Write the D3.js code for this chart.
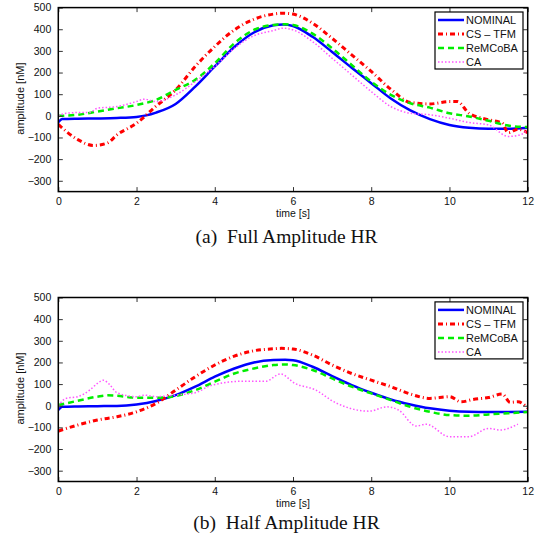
<!DOCTYPE html>
<html>
<head>
<meta charset="utf-8">
<script src="https://cdn.jsdelivr.net/npm/d3@7"></script>
<style>
  html, body { margin: 0; padding: 0; background: #fff; }
  svg { display: block; }
</style>
</head>
<body>
<svg id="chart" width="545" height="548"></svg>
<script>
// series values as [time s, amplitude nM]
const fullNominal = [[0,-30],[0.1,-15],[0.5,-13],[1,-12],[1.5,-10],[2,-5],[2.25,2],[2.5,15],[3,55],[3.5,135],[4,228],[4.5,318],[5,385],[5.5,418],[5.75,422],[6,415],[6.5,365],[7,295],[7.5,222],[8,151],[8.5,80],[9,25],[9.5,-15],[10,-42],[10.5,-55],[11,-60],[11.5,-60],[12,-55]];
const fullCsTfm = [[0,-40],[0.5,-110],[0.9,-137],[1.25,-126],[1.5,-88],[2,-34],[2.5,45],[3,120],[3.5,228],[4,320],[4.5,397],[5,446],[5.5,470],[5.75,474],[6,470],[6.5,428],[7,358],[7.5,282],[8,205],[8.5,123],[9,62],[9.5,55],[10,66],[10.2,66],[10.5,12],[11,-18],[11.35,-34],[11.5,-78],[11.75,-62],[12,-78]];
const fullReMCoBA = [[0,0],[0.5,5],[1,20],[1.5,35],[2,50],[2.5,74],[3,120],[3.5,166],[4,243],[4.5,335],[5,397],[5.5,420],[5.8,423],[6,420],[6.5,380],[7,312],[7.5,235],[8,158],[8.5,97],[9,58],[9.5,38],[10,12],[10.5,-3],[11,-23],[11.5,-45],[12,-52]];
const fullCA = [[0,0],[0.2,12],[0.5,15],[0.8,15],[1,35],[1.5,43],[2,66],[2.2,77],[2.5,66],[3,97],[3.5,158],[4,228],[4.5,312],[5,370],[5.5,394],[5.75,405],[6,397],[6.5,343],[7,266],[7.5,189],[8,112],[8.5,43],[9,12],[9.5,5],[10,-11],[10.5,-31],[11,-42],[11.5,-95],[11.8,-88],[12,-65]];

const halfNominal = [[0,-20],[0.1,-5],[0.5,-3],[1,-2],[1.5,-1],[2,6],[2.5,22],[3,49],[3.5,88],[4,134],[4.5,172],[5,200],[5.5,211],[5.8,212],[6,210],[6.5,180],[7,137],[7.5,95],[8,60],[8.5,29],[9,6],[9.5,-12],[10,-23],[10.5,-28],[11,-29],[12,-28]];
const halfCsTfm = [[0,-117],[0.5,-89],[1,-66],[1.5,-51],[2,-28],[2.5,11],[3,72],[3.5,134],[4,188],[4.5,229],[5,254],[5.5,263],[5.7,265],[6,262],[6.5,234],[7,188],[7.5,149],[8,118],[8.5,88],[9,54],[9.5,34],[10,42],[10.3,18],[10.6,29],[11,38],[11.35,54],[11.55,16],[11.75,18],[12,-10]];
const halfReMCoBA = [[0,3],[0.5,23],[1,42],[1.25,48],[1.5,46],[2,37],[2.5,37],[3,45],[3.5,72],[4,111],[4.5,149],[5,172],[5.5,188],[5.8,191],[6,188],[6.5,165],[7,126],[7.5,88],[8,57],[8.5,26],[9,-5],[9.5,-28],[10,-43],[10.5,-46],[11,-40],[11.5,-35],[12,-29]];
const halfCA = [[0,0],[0.2,34],[0.5,42],[0.8,72],[1,103],[1.15,118],[1.3,100],[1.5,60],[2,42],[2.2,49],[2.5,42],[2.8,45],[3,49],[3.5,60],[3.9,93],[4.7,113],[5.3,113],[5.68,147],[6.05,103],[6.55,75],[7.1,13],[7.95,-25],[8.4,-5],[8.7,-20],[9.15,-94],[9.4,-85],[10,-143],[10.5,-143],[11,-105],[11.3,-112],[11.75,-85]];

const seriesNames = ["NOMINAL", "CS \u2013 TFM", "ReMCoBA", "CA"];
const xTicks = [0, 2, 4, 6, 8, 10, 12];
const yTicks = [-300, -200, -100, 0, 100, 200, 300, 400, 500];
const captions = ["(a)\u2002Full Amplitude HR", "(b)\u2002Half Amplitude HR"];

const styles = [
  { color: "#0000ff", width: 2.5, dash: null },
  { color: "#ff0000", width: 3, dash: "5 3 1 3" },
  { color: "#00ee00", width: 2.5, dash: "6 4" },
  { color: "#ff55ff", width: 1.5, dash: "1.5 2" },
];

const svg = d3.select("#chart");
const margin = { left: 58.3, right: 17.3 };
const plotH = 184;
const sans = "Liberation Sans, Arial, sans-serif";

function drawPanel(top, data, caption, captionY) {
  const x = d3.scaleLinear().domain([0, 12]).range([margin.left, 545 - margin.right]);
  const y = d3.scaleLinear().domain([-350, 500]).range([top + plotH, top]);
  const g = svg.append("g");

  const clipId = "clip" + Math.round(top);
  g.append("clipPath").attr("id", clipId)
    .append("rect").attr("x", x(0)).attr("y", y(500))
    .attr("width", x(12) - x(0)).attr("height", y(-350) - y(500));

  const line = d3.line()
    .x((d) => x(d[0]))
    .y((d) => y(d[1]))
    .curve(d3.curveMonotoneX);

  const curves = g.append("g").attr("clip-path", `url(#${clipId})`);
  data.forEach((series, i) => {
    const s = styles[i];
    curves.append("path")
      .datum(series)
      .attr("fill", "none")
      .attr("stroke", s.color)
      .attr("stroke-width", s.width)
      .attr("stroke-dasharray", s.dash)
      .attr("d", line);
  });

  // inward ticks on all four sides (box style)
  const tickColor = "#333";
  const bottomAxis = d3.axisBottom(x).tickValues(xTicks).tickSizeInner(-4.5).tickSizeOuter(0).tickPadding(6);
  const topAxis = d3.axisTop(x).tickValues(xTicks).tickSizeInner(-4.5).tickSizeOuter(0).tickFormat("");
  const leftAxis = d3.axisLeft(y).tickValues(yTicks).tickSizeInner(-4.5).tickSizeOuter(0).tickPadding(7)
    .tickFormat((d) => (d < 0 ? "\u2212" + Math.abs(d) : d));
  const rightAxis = d3.axisRight(y).tickValues(yTicks).tickSizeInner(-4.5).tickSizeOuter(0).tickFormat("");

  const styleAxis = (a) => {
    a.select(".domain").remove();
    a.selectAll("line").attr("stroke", tickColor).attr("stroke-width", 1);
    a.selectAll("text").attr("fill", "#111").attr("font-family", sans).attr("font-size", 10.5);
  };

  g.append("g").attr("transform", `translate(0,${y(-350)})`).call(bottomAxis).call(styleAxis);
  g.append("g").attr("transform", `translate(0,${y(500)})`).call(topAxis).call(styleAxis);
  g.append("g").attr("transform", `translate(${x(0)},0)`).call(leftAxis).call(styleAxis);
  g.append("g").attr("transform", `translate(${x(12)},0)`).call(rightAxis).call(styleAxis);

  g.append("rect")
    .attr("x", x(0)).attr("y", y(500))
    .attr("width", x(12) - x(0)).attr("height", y(-350) - y(500))
    .attr("fill", "none").attr("stroke", "#000").attr("stroke-width", 1.5);

  g.append("text")
    .attr("x", (x(0) + x(12)) / 2).attr("y", top + plotH + 25)
    .attr("text-anchor", "middle")
    .attr("font-family", sans).attr("font-size", 10.5)
    .attr("fill", "#111")
    .text("time [s]");

  g.append("text")
    .attr("transform", `translate(24,${top + 91}) rotate(-90)`)
    .attr("text-anchor", "middle")
    .attr("font-family", sans).attr("font-size", 11)
    .attr("fill", "#111")
    .text("amplitude [nM]");

  // legend
  const lx = 435, ly = top + 4.4, lw = 88, lh = 57;
  const legend = g.append("g");
  legend.append("rect")
    .attr("x", lx).attr("y", ly).attr("width", lw).attr("height", lh)
    .attr("fill", "#fff").attr("stroke", "#000").attr("stroke-width", 1.2);
  seriesNames.forEach((name, i) => {
    const s = styles[i];
    const ry = ly + 8 + i * 14;
    legend.append("line")
      .attr("x1", lx + 3).attr("x2", lx + 29).attr("y1", ry).attr("y2", ry)
      .attr("stroke", s.color).attr("stroke-width", s.width)
      .attr("stroke-dasharray", s.dash);
    legend.append("text")
      .attr("x", lx + 31).attr("y", ry + 4)
      .attr("font-family", sans).attr("font-size", 11)
      .attr("fill", "#111")
      .text(name);
  });

  svg.append("text")
    .attr("x", 286.5).attr("y", captionY)
    .attr("text-anchor", "middle")
    .attr("font-family", "Liberation Serif, Times New Roman, serif").attr("font-size", 19.5)
    .attr("fill", "#111")
    .text(caption);
}

drawPanel(7.6, [fullNominal, fullCsTfm, fullReMCoBA, fullCA], captions[0], 243);
drawPanel(297.5, [halfNominal, halfCsTfm, halfReMCoBA, halfCA], captions[1], 529);
</script>
</body>
</html>
